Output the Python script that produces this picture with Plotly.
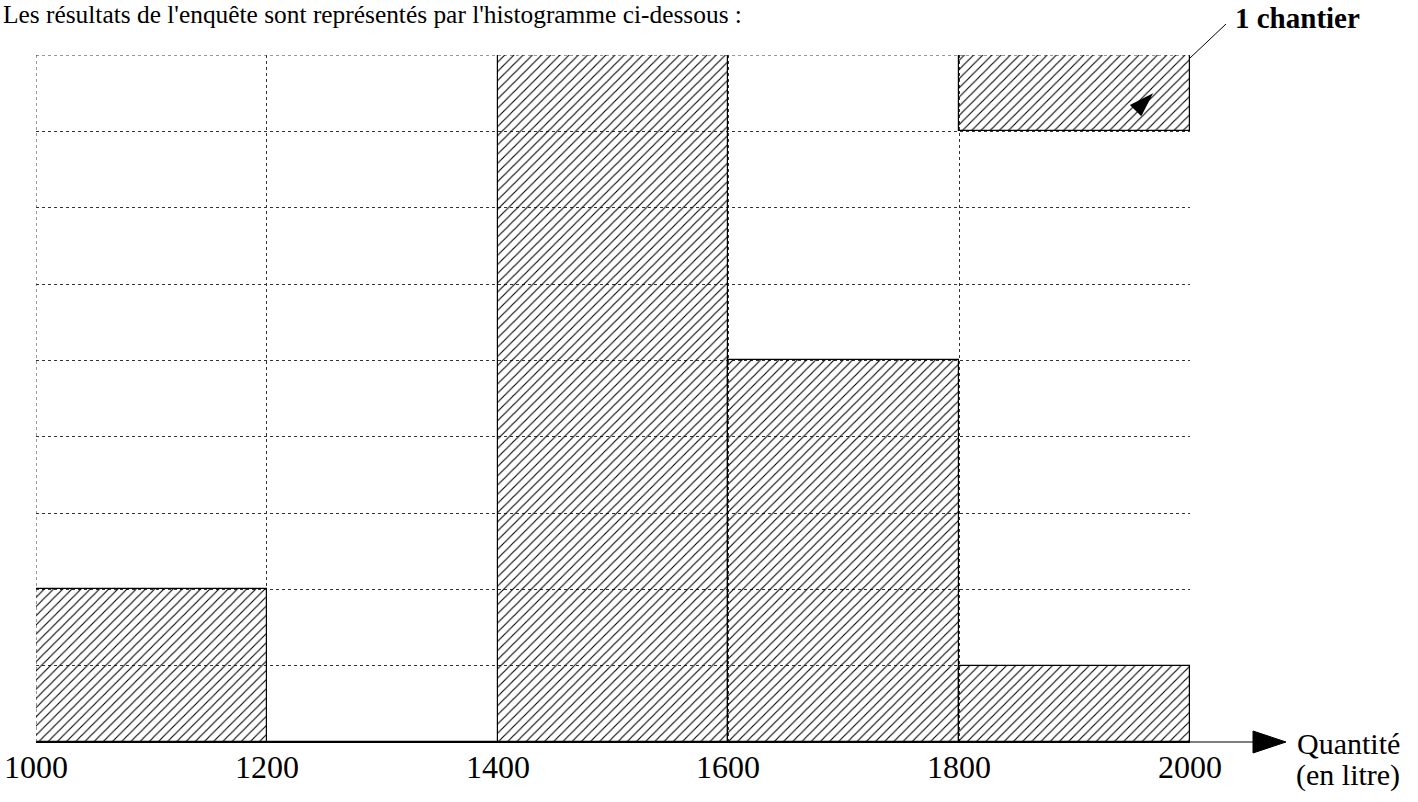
import plotly.graph_objects as go

# Data
bin_starts = [1000, 1200, 1400, 1600, 1800]
bin_width = 200
counts = [2, 0, 9, 5, 1]
tick_vals = [1000, 1200, 1400, 1600, 1800, 2000]
tick_text = ["1000", "1200", "1400", "1600", "1800", "2000"]
legend_unit = 1          # one hatched cell = 1 chantier
legend_base = 8
legend_x = 1900
title_text = "Les résultats de l'enquête sont représentés par l'histogramme ci-dessous :"
legend_label = "1 chantier"
axis_label_1 = "Quantité"
axis_label_2 = "(en litre)"

FONT = "Liberation Serif"
hatch = dict(shape="/", fgcolor="black", fgopacity=1, bgcolor="rgba(0,0,0,0)", size=6.5, solidity=0.17)
GRID = "#333"
PLOT_W = 1154.0
PLOT_H = 687.0

fig = go.Figure()
fig.add_trace(go.Bar(
    x=[s + bin_width / 2 for s in bin_starts], y=counts, width=bin_width,
    marker=dict(color="rgba(0,0,0,0)", pattern=hatch, line=dict(color="black", width=1.2)),
    showlegend=False, hoverinfo="skip"))
fig.add_trace(go.Bar(
    x=[legend_x], y=[legend_unit], base=[legend_base], width=bin_width,
    marker=dict(color="rgba(0,0,0,0)", pattern=hatch, line=dict(color="black", width=1.2)),
    showlegend=False, hoverinfo="skip"))
fig.add_trace(go.Scatter(
    x=[1968], y=[8.5], mode="markers",
    marker=dict(symbol="arrow", angle=45, size=26, color="black"),
    showlegend=False, hoverinfo="skip", cliponaxis=False))

fig.update_layout(
    width=1418, height=802,
    margin=dict(l=36, r=228, t=55, b=60),
    paper_bgcolor="white", plot_bgcolor="white",
    barmode="overlay", bargap=0,
    font=dict(family=FONT, color="black"),
    xaxis=dict(range=[1000, 2000], tickvals=tick_vals, showticklabels=False,
               showgrid=True, gridcolor=GRID, griddash="dot", gridwidth=1,
               showline=True, linecolor="black", linewidth=1.2,
               zeroline=False, ticks=""),
    yaxis=dict(range=[0, 9], dtick=1, showticklabels=False,
               showgrid=True, gridcolor=GRID, griddash="dot", gridwidth=1,
               zeroline=False, showline=False, ticks=""),
)

# outer dotted top/left border lines
fig.add_shape(type="line", xref="x", yref="y", x0=1000, x1=2000, y0=9, y1=9,
              line=dict(color=GRID, width=1, dash="dot"))
fig.add_shape(type="line", xref="x", yref="y", x0=1000, x1=1000, y0=0, y1=9,
              line=dict(color=GRID, width=1, dash="dot"))

# x axis arrow extension
fig.add_shape(type="line", xref="paper", yref="paper", x0=1.0, x1=1.06, y0=0, y1=0,
              line=dict(color="black", width=1.2))
h = 11 / PLOT_H
fig.add_shape(type="path", xref="paper", yref="paper",
              path=f"M 1.0546,{-h:.4f} L 1.0832,0 L 1.0546,{h:.4f} Z",
              fillcolor="black", line=dict(color="black", width=1))

# leader line to the legend label
fig.add_shape(type="line", xref="paper", yref="paper",
              x0=1.0, y0=1 - 3 / PLOT_H, x1=1 + 36 / PLOT_W, y1=1 + 31 / PLOT_H,
              line=dict(color="black", width=1))

# tick labels placed through the x scale
for v, t in zip(tick_vals, tick_text):
    fig.add_annotation(xref="x", yref="y", x=v, y=0, xanchor="center", yanchor="middle", yshift=-25,
                       text=t, showarrow=False, font=dict(family=FONT, size=32, color="black"))

fig.add_annotation(xref="paper", yref="paper", x=-0.0305, y=1 + 41 / PLOT_H, xanchor="left", yanchor="middle",
                   text=title_text, showarrow=False, font=dict(family=FONT, size=25.4, color="black"))
fig.add_annotation(xref="paper", yref="paper", x=1 + 43 / PLOT_W, y=1 + 37 / PLOT_H,
                   xanchor="left", yanchor="middle", text="<b>" + legend_label + "</b>",
                   showarrow=False, font=dict(family=FONT, size=29, color="black"))
fig.add_annotation(xref="paper", yref="y", x=1.137, y=0, xanchor="center", yanchor="middle", yshift=-1,
                   text=axis_label_1, showarrow=False,
                   font=dict(family=FONT, size=30, color="black"))
fig.add_annotation(xref="paper", yref="y", x=1.137, y=0, xanchor="center", yanchor="middle", yshift=-33,
                   text=axis_label_2, showarrow=False,
                   font=dict(family=FONT, size=30, color="black"))

fig.write_html("out.html", config={"displayModeBar": False},
               post_script="document.body.style.margin='0';")
